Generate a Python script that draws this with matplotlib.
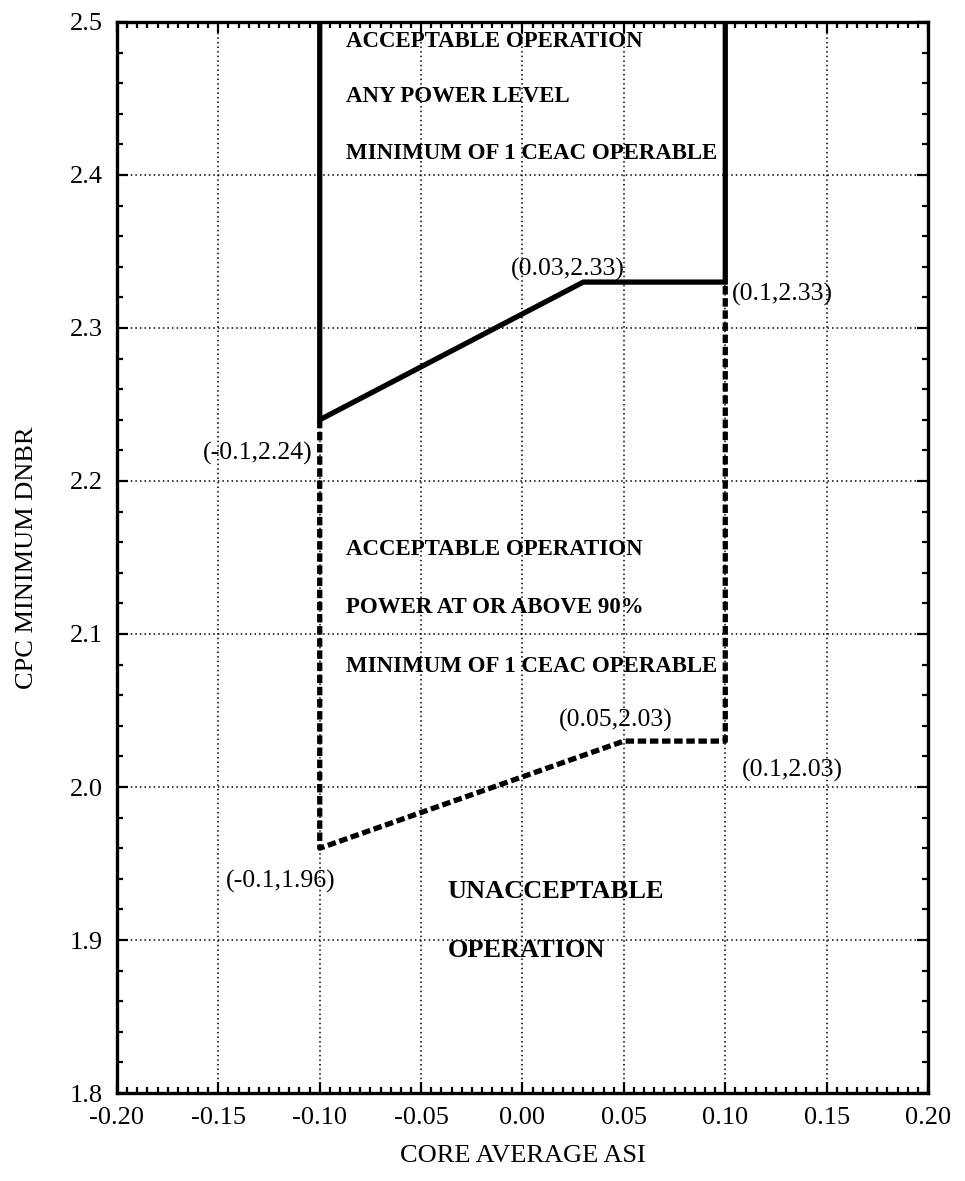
import matplotlib
matplotlib.use('Agg')
import matplotlib.pyplot as plt
from matplotlib.ticker import MultipleLocator, FormatStrFormatter

plt.rcParams['font.family'] = ['Liberation Serif', 'DejaVu Serif']

# limit lines
solid_x = [-0.1, -0.1, 0.03, 0.1, 0.1]
solid_y = [2.5, 2.24, 2.33, 2.33, 2.5]
dash_x = [-0.1, -0.1, 0.05, 0.1, 0.1]
dash_y = [2.24, 1.96, 2.03, 2.03, 2.33]

# labelled corner points
pt_x = [0.03, 0.1, -0.1, 0.05, 0.1, -0.1]
pt_y = [2.33, 2.33, 2.24, 2.03, 2.03, 1.96]
pt_text = ['(0.03,2.33)', '(0.1,2.33)', '(-0.1,2.24)',
           '(0.05,2.03)', '(0.1,2.03)', '(-0.1,1.96)']

top_text = ['ACCEPTABLE OPERATION', 'ANY POWER LEVEL',
            'MINIMUM OF 1 CEAC OPERABLE']
mid_text = ['ACCEPTABLE OPERATION', 'POWER AT OR ABOVE 90%',
            'MINIMUM OF 1 CEAC OPERABLE']
low_text = ['UNACCEPTABLE', 'OPERATION']

fig = plt.figure(figsize=(9.65, 11.81), dpi=100)
ax = fig.add_axes([0.1212, 0.0745, 0.8405, 0.9069])

ax.plot(solid_x, solid_y, '-', color='black', lw=3.8,
        solid_joinstyle='miter', zorder=3)
ax.plot(dash_x, dash_y, color='black', lw=3.8,
        linestyle=(0, (1.6, 0.7)), zorder=3)

ax.set_xlim(-0.2, 0.2)
ax.set_ylim(1.8, 2.5)
ax.xaxis.set_major_locator(MultipleLocator(0.05))
ax.xaxis.set_minor_locator(MultipleLocator(0.005))
ax.yaxis.set_major_locator(MultipleLocator(0.1))
ax.yaxis.set_minor_locator(MultipleLocator(0.02))
ax.xaxis.set_major_formatter(FormatStrFormatter('%.2f'))
ax.yaxis.set_major_formatter(FormatStrFormatter('%.1f'))

ax.grid(True, which='major', color='black', lw=1.1, linestyle=(0, (1, 2)))
ax.tick_params(which='both', direction='in', top=True, right=True,
               labelsize=19, width=1.6, color='black')
ax.tick_params(which='major', length=8, pad=10)
ax.tick_params(which='minor', length=4)
for s in ax.spines.values():
    s.set_linewidth(2.4)

ax.set_xlabel('CORE AVERAGE ASI', fontsize=19)
ax.set_ylabel('CPC MINIMUM DNBR', fontsize=19)
ax.xaxis.set_label_coords(0.5, -0.049)
ax.yaxis.set_label_coords(-0.097, 0.5)

# region texts
for t, y in zip(top_text, [2.487, 2.451, 2.414]):
    ax.text(-0.087, y, t, fontsize=16.5, fontweight='bold', va='center')
for t, y in zip(mid_text, [2.155, 2.117, 2.079]):
    ax.text(-0.087, y, t, fontsize=16.5, fontweight='bold', va='center')
for t, y in zip(low_text, [1.932, 1.893]):
    ax.text(-0.037, y, t, fontsize=19, fontweight='bold', va='center')

# point labels
offsets = [(-11, 9), (5, -9), (-5, -24), (-6, 15), (12, -21), (11, -24)]
aligns = ['center', 'left', 'right', 'center', 'left', 'right']
for x, y, t, off, ha in zip(pt_x, pt_y, pt_text, offsets, aligns):
    ax.annotate(t, (x, y), xytext=off, textcoords='offset points',
                ha=ha, va='center', fontsize=18.5)

fig.savefig('out.png', dpi=100)
